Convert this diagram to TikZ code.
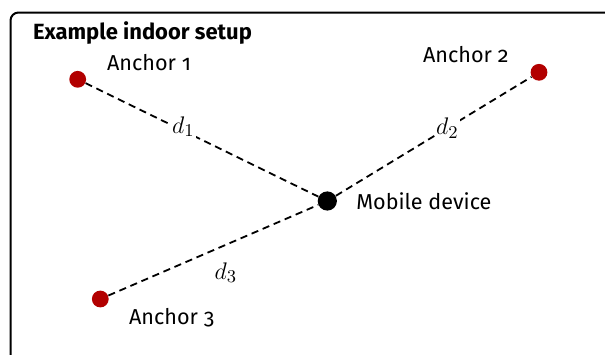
\documentclass[tikz,border=0pt]{standalone}
\usepackage{fontspec}
\setmainfont[Numbers=OldStyle]{Fira Sans}
\usepackage{tikz}
\usetikzlibrary{positioning}

\definecolor{anchorred}{RGB}{178,0,0}

\tikzset{
  anchordot/.style={circle,fill=anchorred,inner sep=0pt,minimum size=8.4pt},
  mobiledot/.style={circle,fill=black,inner sep=0pt,minimum size=9.6pt},
  rangeline/.style={dashed,dash pattern=on 3.6pt off 2.4pt,line width=0.9pt},
  dist/.style={fill=white,inner sep=0.5pt,font=\fontsize{13}{15}\selectfont}
}

\begin{document}
\begin{tikzpicture}[x=0.5pt,y=-0.5pt,font=\fontsize{10.8}{13}\selectfont]
\useasboundingbox (0,0) rectangle (605,354);
\clip (0,0) rectangle (605,354);
% frame of the room
\draw[line width=1pt,rounded corners=4pt] (10.5,12.5) rectangle (660,400);
\node[anchor=west,font=\fontsize{11}{13}\selectfont\bfseries] (title) at (26,33) {Example indoor setup};

% anchors and device
\node[anchordot] (a1) at (77.7,79.3) {};
\node[anchordot] (a2) at (539,72.3) {};
\node[anchordot] (a3) at (100.3,299) {};
\node[mobiledot] (m) at (327.3,201) {};

\node[anchor=west] (a1lbl) at (100,63) {Anchor 1};
\node[anchor=west] (a2lbl) at (416,55) {Anchor 2};
\node[anchor=west] (a3lbl) at (122,318) {Anchor 3};
\node[right=6pt of m] (mlbl) {Mobile device};

\draw[rangeline] (a1) -- node[dist,pos=0.42,anchor=south,yshift=-4pt] (d1) {$d_1$} (m);
\draw[rangeline] (m) -- node[dist,pos=0.57] (d2) {$d_2$} (a2);
\draw[rangeline] (a3) -- node[dist,pos=0.56,below=8pt,fill=none] (d3) {$d_3$} (m);
\end{tikzpicture}
\end{document}
